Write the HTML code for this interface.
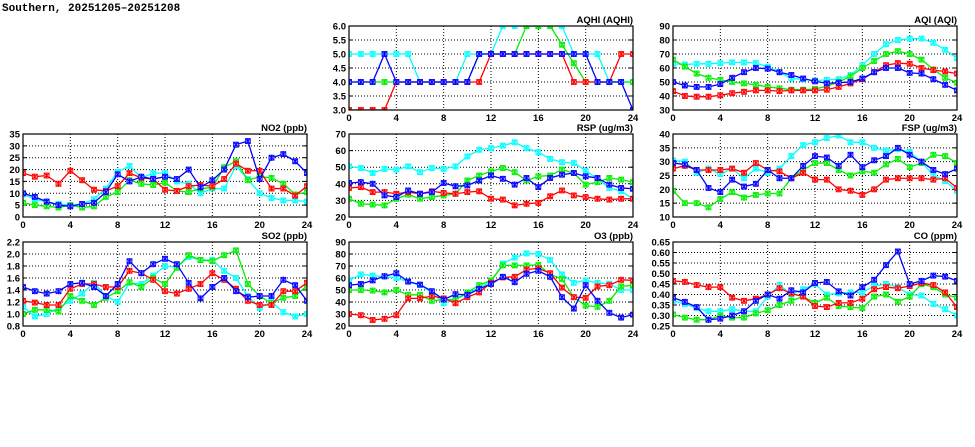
<!DOCTYPE html>
<html><head><meta charset="utf-8"><style>
body{margin:0;background:#fff;width:975px;height:447px;overflow:hidden}
svg{display:block}
text{font-family:"Liberation Sans",sans-serif;font-weight:bold;font-size:9.5px;fill:#000}
</style></head><body>
<svg id="s" width="975" height="447" xmlns="http://www.w3.org/2000/svg">
<text x="2" y="11" style="font-family:'Liberation Mono',monospace;font-size:11px">Southern, 20251205–20251208</text>
</svg>
<script>
const C={c:"#00ffff",g:"#00ee00",r:"#ff0000",b:"#0000ff"};
const L={c:"#aaffff",g:"#aaffaa",r:"#ffaaaa",b:"#aaaaff"};
const panels=[
{t:"AQHI (AQHI)",x:349,y:26,w:284,h:84,min:3,max:6,step:0.5,dec:1,d:{
c:[5,5,5,5,5,5,4,4,4,4,5,5,5,6,6,6,6,6,6,5,5,5,4,4,4],
g:[4,4,4,4,4,4,4,4,4,4,4,5,5,5,5,6,6,6,5.33,4.67,4,4,4,4,4],
r:[3,3,3,3,4,4,4,4,4,4,4,4,5,5,5,5,5,5,5,4,4,4,4,5,5],
b:[4,4,4,5,4,4,4,4,4,4,4,5,5,5,5,5,5,5,5,5,5,4,4,4,3]}},
{t:"AQI (AQI)",x:673,y:26,w:284,h:84,min:30,max:90,step:10,dec:0,d:{
c:[63,62.5,63,63,63.5,64,64,63.5,61,57,52.5,52,51,51.5,52,55,62,70,77,80,81,81,78,73,67],
g:[66,61,56,53,51.5,50,49,48,46.5,45.5,44.5,44.5,45,47,50,54,60,65,70,72,70,66,59,53,49.5],
r:[43.5,40,39.5,39.5,40.5,42,43,44,44,43.5,44,44,44,44.5,46.5,49,52,57,62,63.5,63,60,58.5,57.5,56],
b:[50,47.5,46.5,46.5,48.5,53,57,60,59.5,57,55,52.5,50.5,49,49.5,50,52.5,57,60,60,56.5,56,52,48,44]}},
{t:"NO2 (ppb)",x:23,y:134,w:284,h:83,min:0,max:35,step:5,dec:0,d:{
c:[9.5,7.5,6.5,5.5,5,5.5,7.5,12,19,21.5,16.5,18.5,18.5,15,14,10,12,12,21.5,16,10,8,7,7,6.5],
g:[6,5,4.5,4,5,4,4.5,8.5,10.5,15.5,14,13.5,14.5,11,10.5,12,12.5,21,23.5,15.5,17,16.5,14,9.5,10.5],
r:[18.5,17,17.5,14,19.5,15.5,11.5,11,13,18.5,16.5,16,11.5,11,13,13.5,13,16,22.5,19.5,19.5,12,12,9,13],
b:[10,8.5,6.5,5,4.5,5.5,6,10.5,18,15,17,16,17,16,20,12.5,15.5,20,30.5,32,16,25,26.5,23.5,18.5]}},
{t:"RSP (ug/m3)",x:349,y:134,w:284,h:83,min:20,max:70,step:10,dec:0,d:{
c:[50.5,49.5,46.5,49,48.5,50.5,47,49.5,49,50.5,56.5,60.5,61.5,63,65,61.5,59,55,53,52.5,48,43,37.5,35.5,31],
g:[31,28,27.5,27,31,33.5,31,32,33,34,42,45,47.5,49.5,47,42,44.5,45,48.5,46.5,39.5,41,43.5,42.5,41],
r:[37.5,38,35,35,34,35,34,35.5,34.5,34,35,35.5,31,30.5,27,28,28.5,32.5,36,33,32,31,30.5,31,31],
b:[40.5,41,40,33,32,36,34,35,40.5,38.5,39,42,45,43,39.5,43.5,38,43.5,45.5,46.5,44.5,43.5,39.5,37.5,37]}},
{t:"FSP (ug/m3)",x:673,y:134,w:284,h:83,min:10,max:40,step:5,dec:0,d:{
c:[30.5,30,26,27.5,25.5,27.5,24,27.5,26,27.5,32,36,37,38.5,39.5,37,37,35,34,34.5,33.5,30,25,23,19.5],
g:[19.5,15,15,13.5,16.5,19,17,18,18.5,18.5,24,27,29.5,29.5,27,25,26.5,26,29,31,28,29.5,32.5,32,29.5],
r:[27.5,28.5,27,27,27,27.5,26,29.5,27,26.5,24,26,23.5,23.5,20,19.5,18,20,23.5,24,24,24,23.5,24,20.5],
b:[29.5,29,27,20.5,19,23.5,21,22,27,24,24,28.5,32,31.5,28.5,32.5,28,30.5,32,35,32.5,30,27,25.5,27.5]}},
{t:"SO2 (ppb)",x:23,y:242,w:284,h:84,min:0.8,max:2.2,step:0.2,dec:1,d:{
c:[1.12,0.96,1.0,1.1,1.22,1.34,1.52,1.3,1.2,1.52,1.5,1.64,1.8,1.78,1.95,1.9,1.9,1.72,1.6,1.3,1.1,1.2,1.03,0.96,1.0],
g:[1.0,1.07,1.07,1.04,1.3,1.22,1.15,1.27,1.38,1.53,1.45,1.6,1.5,1.77,1.98,1.9,1.88,1.98,2.06,1.5,1.3,1.18,1.27,1.3,1.47],
r:[1.22,1.19,1.15,1.15,1.42,1.5,1.5,1.45,1.45,1.72,1.68,1.57,1.38,1.34,1.42,1.5,1.68,1.57,1.42,1.22,1.15,1.15,1.38,1.38,1.52],
b:[1.45,1.38,1.34,1.38,1.5,1.52,1.45,1.3,1.5,1.88,1.68,1.83,1.92,1.83,1.52,1.26,1.45,1.6,1.38,1.28,1.3,1.3,1.57,1.48,1.22]}},
{t:"O3 (ppb)",x:349,y:242,w:284,h:84,min:20,max:90,step:10,dec:0,d:{
c:[58,63,62,61,60,57,54,48,39,42,47,52,57,72,77,80.5,80,75,63,56,58,56,55,50,50],
g:[50,50,49.5,48,50,46,46,41,42,42,48,54,58,70.5,70.5,70.5,71,63,59,44,37,36,41,53,54],
r:[30,29,25,26,29,43,43,45,43,39,44,48,56,60.5,61,67,68,64,52,44,43.5,53,54,58.5,58],
b:[54,55,58,61.5,64,57,54.5,49,42,46.5,46,51,55,61,56.5,63.5,66,61,44,34.5,54,41,31,27,29.5]}},
{t:"CO (ppm)",x:673,y:242,w:284,h:84,min:0.25,max:0.65,step:0.05,dec:2,d:{
c:[.37,.355,.335,.32,.32,.33,.32,.32,.39,.445,.40,.425,.45,.40,.405,.41,.41,.44,.45,.435,.40,.395,.355,.33,.30],
g:[.305,.29,.28,.28,.30,.29,.29,.31,.325,.35,.37,.39,.36,.385,.345,.34,.335,.39,.40,.365,.39,.45,.435,.40,.385],
r:[.465,.46,.445,.435,.435,.385,.37,.38,.40,.43,.405,.39,.345,.34,.36,.36,.38,.425,.435,.43,.44,.455,.445,.41,.34],
b:[.385,.365,.34,.28,.285,.30,.32,.37,.40,.38,.42,.41,.455,.46,.415,.395,.435,.47,.54,.605,.45,.465,.49,.485,.465]}}
];
const s=document.getElementById('s');let h='';let id=0;
for(const p of panels){
  id++;
  const X=i=>p.x+i*p.w/24, Y=v=>p.y+p.h-(v-p.min)/(p.max-p.min)*p.h;
  h+=`<clipPath id="k${id}"><rect x="${p.x}" y="${p.y}" width="${p.w}" height="${p.h}"/></clipPath>`;
  const n=Math.round((p.max-p.min)/p.step);
  for(let k=0;k<=n;k++){const v=p.min+k*p.step,y=Y(v);
    if(k>0&&k<n)h+=`<line x1="${p.x}" x2="${p.x+p.w}" y1="${y}" y2="${y}" stroke="#000" stroke-width="1" stroke-dasharray="1,2"/>`;
    h+=`<line x1="${p.x}" x2="${p.x+4}" y1="${y}" y2="${y}" stroke="#000"/><line x1="${p.x+p.w-4}" x2="${p.x+p.w}" y1="${y}" y2="${y}" stroke="#000"/>`;
    h+=`<text x="${p.x-3}" y="${y+3.5}" text-anchor="end">${v.toFixed(p.dec)}</text>`;}
  for(let i=0;i<=24;i+=4){const x=X(i);
    if(i>0&&i<24)h+=`<line x1="${x}" x2="${x}" y1="${p.y}" y2="${p.y+p.h}" stroke="#000" stroke-dasharray="1,2"/>`;
    h+=`<text x="${x}" y="${p.y+p.h+11}" text-anchor="middle">${i}</text>`;}
  h+=`<text x="${p.x+p.w}" y="${p.y-3}" text-anchor="end">${p.t}</text>`;
  h+=`<g clip-path="url(#k${id})">`;
  for(const c of ['c','g','r','b']){const d=p.d[c];
    h+=`<polyline fill="none" stroke="${C[c]}" stroke-width="1.3" points="${d.map((v,i)=>X(i)+','+Y(v)).join(' ')}"/>`;
    d.forEach((v,i)=>{const x=X(i),y=Y(v);
      h+=`<rect x="${x-2.5}" y="${y-2.5}" width="5" height="5" fill="${L[c]}" stroke="${C[c]}" stroke-width="0.8"/><path d="M${x-2.5} ${y-2.5}L${x+2.5} ${y+2.5}M${x-2.5} ${y+2.5}L${x+2.5} ${y-2.5}M${x} ${y-3}V${y+3}" stroke="${C[c]}" stroke-width="1"/>`;});}
  h+=`</g><rect x="${p.x}" y="${p.y}" width="${p.w}" height="${p.h}" fill="none" stroke="#000" stroke-width="1.2"/>`;
}
s.insertAdjacentHTML('beforeend',h);
</script>
</body></html>
